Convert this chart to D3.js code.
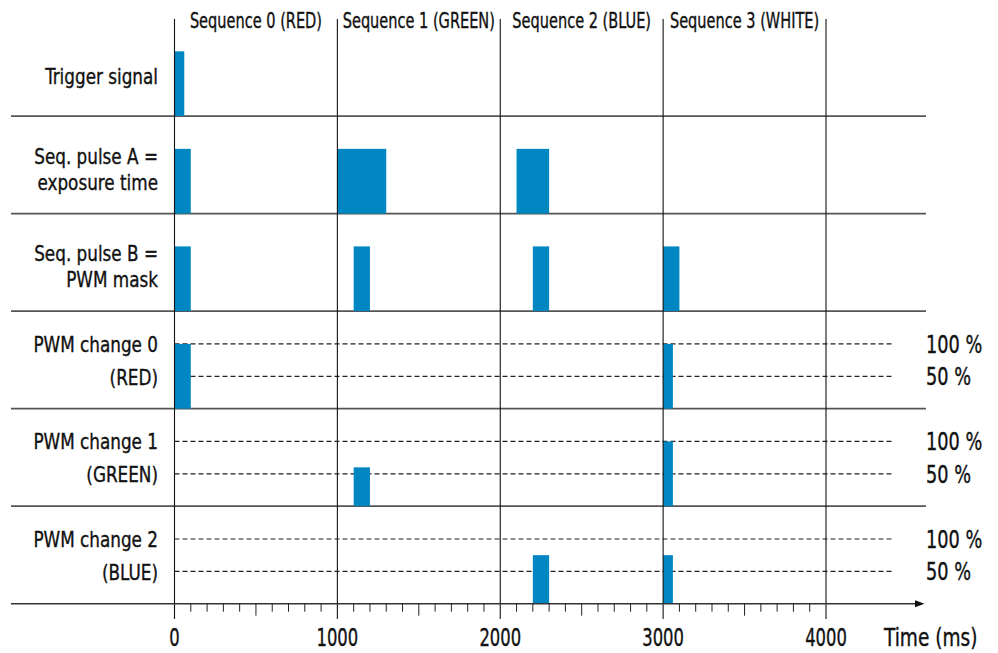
<!DOCTYPE html>
<html><head><meta charset="utf-8">
<script src="https://cdn.jsdelivr.net/npm/d3@7"></script>
<style>
html,body{margin:0;padding:0;background:#fff;}
svg{display:block;font-family:"Liberation Sans Narrow","DejaVu Sans Condensed","DejaVu Sans",sans-serif;}
svg text{stroke:#111;stroke-width:0.35px;}
</style></head>
<body>
<svg id="chart" width="998" height="653"></svg>
<script>
// ---- data ----
const sequenceLabels = ["Sequence 0 (RED)", "Sequence 1 (GREEN)", "Sequence 2 (BLUE)", "Sequence 3 (WHITE)"];
const sequenceStarts = [0, 1000, 2000, 3000];
const sequenceLength = 1000;
const rowLabels = [
  ["Trigger signal"],
  ["Seq. pulse A =", "exposure time"],
  ["Seq. pulse B =", "PWM mask"],
  ["PWM change 0", "(RED)"],
  ["PWM change 1", "(GREEN)"],
  ["PWM change 2", "(BLUE)"]
];
// pulses per row: [start ms, end ms, level (1 = 100 %)]
const triggerPulses = [[0, 60, 1]];
const pulseA = [[0, 100, 1], [1000, 1300, 1], [2100, 2300, 1]];
const pulseB = [[0, 100, 1], [1100, 1200, 1], [2200, 2300, 1], [3000, 3100, 1]];
const pwmChange0 = [[0, 100, 1], [3000, 3060, 1]];
const pwmChange1 = [[1100, 1200, 0.6], [3000, 3060, 1]];
const pwmChange2 = [[2200, 2300, 0.75], [3000, 3060, 0.75]];
const rowPulses = [triggerPulses, pulseA, pulseB, pwmChange0, pwmChange1, pwmChange2];
const levelRows = [3, 4, 5];
const levelValues = [1, 0.5];
const levelLabels = ["100 %", "50 %"];
const majorTicks = [0, 1000, 2000, 3000, 4000];
const minorTicks = d3.range(100, 4000, 100).filter(v => v % 1000 !== 0);
const axisTitle = "Time (ms)";

// ---- layout ----
const svg = d3.select("#chart");
const x = d3.scaleLinear().domain([0, 4000]).range([174.5, 826]);
const row = d3.scaleBand().domain(d3.range(rowLabels.length)).range([18.5, 603.7]).padding(0);
const level = d3.scaleLinear().domain([0, 1]).range([0, 64.7]);
const rowBottom = i => row(i) + row.bandwidth();
const barColor = "#0087c1";
const ink = "#111";

// horizontally condense text around its anchor x (narrow look)
function condense(sel, k) {
  sel.each(function() {
    const t = d3.select(this);
    const ax = +t.attr("x") || 0;
    t.attr("transform", `translate(${ax},0) scale(${k},1) translate(${-ax},0)`);
  });
}

// horizontal row separators
svg.append("g").selectAll("line").data(d3.range(1, rowLabels.length)).join("line")
  .attr("x1", 11).attr("x2", 926)
  .attr("y1", d => rowBottom(d - 1)).attr("y2", d => rowBottom(d - 1))
  .attr("stroke", "#555").attr("stroke-width", 1.8);

// dashed level lines
const lvl = [];
levelRows.forEach(r => levelValues.forEach((v, j) => lvl.push({r, v, j})));
svg.append("g").selectAll("line").data(lvl).join("line")
  .attr("x1", x(0)).attr("x2", 893)
  .attr("y1", d => rowBottom(d.r) - level(d.v)).attr("y2", d => rowBottom(d.r) - level(d.v))
  .attr("stroke", "#222").attr("stroke-width", 1.2).attr("stroke-dasharray", "5,3");

// pulses
const bars = [];
rowPulses.forEach((ps, r) => ps.forEach(p => bars.push({r, s: p[0], e: p[1], l: p[2]})));
svg.append("g").selectAll("rect").data(bars).join("rect")
  .attr("x", d => x(d.s)).attr("width", d => x(d.e) - x(d.s))
  .attr("y", d => rowBottom(d.r) - level(d.l)).attr("height", d => level(d.l))
  .attr("fill", barColor);

// vertical sequence lines
svg.append("g").selectAll("line").data(majorTicks).join("line")
  .attr("x1", d => x(d)).attr("x2", d => x(d))
  .attr("y1", 19).attr("y2", 619)
  .attr("stroke", ink).attr("stroke-width", 1.1);

// time axis
const axisY = rowBottom(rowLabels.length - 1);
svg.append("line").attr("x1", 11).attr("x2", 916).attr("y1", axisY).attr("y2", axisY)
  .attr("stroke", "#333").attr("stroke-width", 1.6);
svg.append("path").attr("d", `M915,${axisY - 3.5}L924.5,${axisY}L915,${axisY + 3.5}Z`).attr("fill", ink);
svg.append("g").selectAll("line").data(minorTicks).join("line")
  .attr("x1", d => x(d)).attr("x2", d => x(d))
  .attr("y1", axisY).attr("y2", d => axisY + (d % 500 === 0 ? 12 : 8))
  .attr("stroke", "#222").attr("stroke-width", 1);
svg.append("g").selectAll("text").data(majorTicks).join("text")
  .attr("x", d => x(d)).attr("y", 646).attr("text-anchor", "middle")
  .attr("font-size", 24).attr("fill", ink).text(d => d)
  .call(condense, 0.76);
svg.append("text").attr("x", 884).attr("y", 646).attr("font-size", 24).attr("fill", ink).text(axisTitle)
  .call(condense, 0.86);

// sequence titles
svg.append("g").selectAll("text").data(sequenceLabels).join("text")
  .attr("x", (d, i) => x(sequenceStarts[i] + sequenceLength / 2)).attr("y", 28)
  .attr("text-anchor", "middle").attr("font-size", 21).attr("fill", ink).text(d => d)
  .call(condense, 0.77);

// row labels
const rowLineOffsets = [[-32], [-50, -24], [-50, -24], [-57, -24], [-57, -24], [-57, -24]];
const rl = svg.append("g").selectAll("text").data(rowLabels).join("text")
  .attr("x", 158).attr("text-anchor", "end").attr("font-size", 22).attr("fill", ink);
rl.each(function(lines, i) {
  const t = d3.select(this);
  const b = rowBottom(i);
  lines.forEach((s, k) => t.append("tspan").attr("x", 158).attr("y", b + rowLineOffsets[i][k]).text(s));
});
rl.call(condense, 0.85);

// level labels
svg.append("g").selectAll("text").data(lvl).join("text")
  .attr("x", 926).attr("y", d => rowBottom(d.r) - level(d.v) + 9)
  .attr("font-size", 24).attr("fill", ink).text(d => levelLabels[d.j])
  .call(condense, 0.82);
</script>
</body></html>
